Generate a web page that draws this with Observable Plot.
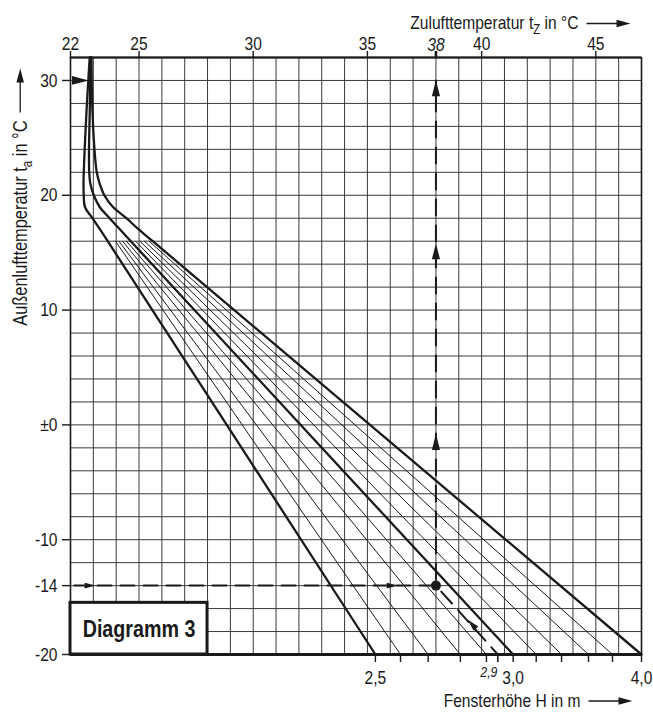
<!DOCTYPE html>
<html><head><meta charset="utf-8">
<script src="https://cdn.jsdelivr.net/npm/d3@7"></script>
<script src="https://cdn.jsdelivr.net/npm/@observablehq/plot@0.6"></script>
<style>body{margin:0;background:#fff}</style>
</head><body><div id="chart"></div>
<script>
// ---- axes (top: Zulufttemperatur t_z in °C, left: Außenlufttemperatur t_a in °C) ----
const topTicks = [22, 25, 30, 35, 40, 45];
const leftTicks = [30, 20, 10, 0, -10, -14, -20];
const gridTz = d3.range(23, 47, 1);
const gridTa = d3.range(-18, 32, 2);

// ---- heavy curves: window height H = 2,5 / 3,0 / 4,0 m ----
const heavyH = ["2,5", "3,0", "4,0"];
const curveTa = [32, 28, 24, 22, 21, 20, 19, 18, 17, 16, -20];
const curve25 = [22.84, 22.72, 22.62, 22.58, 22.57, 22.58, 22.63, 22.96, 23.30, 23.63, 35.35];
const curve30 = [22.87, 22.85, 22.81, 22.82, 22.87, 23.02, 23.27, 23.71, 24.18, 24.64, 41.38];
const curve40 = [22.92, 22.95, 23.05, 23.15, 23.28, 23.48, 23.85, 24.45, 25.00, 25.60, 47.00];

// ---- thin intermediate lines (start at t_a = 16, end at t_a = -20) ----
const thinStartTa = 16, thinEndTa = -20;
const thinStartTz = [23.97, 24.12, 24.28, 24.45, 24.85, 25.04, 25.24, 25.44];
const thinEndTz   = [36.45, 37.66, 39.07, 40.21, 42.39, 43.50, 44.68, 45.73];

// ---- worked example ----
const exampleTz = 38, exampleTa = -14;
const resultTz = 40.71, resultLabel = "2,9";
const exampleTopTa = 30;

// arrowheads along the example lines
const arrowTz    = [22.8, 23.1, 36.35, 38, 38, 38, 39.38];
const arrowTa    = [30, -14, -14, 30, 15.8, -0.8, -16.95];
const arrowAngle = [90, 90, 90, 0, 0, 0, -43];
const arrowSize  = [7, 4.6, 4.8, 6.6, 6.6, 6.6, 5.2];

// label box
const boxTz = [22, 28], boxTa = [-20, -15.5];
const boxText = "Diagramm 3";

// axis titles
const titleTop = "Zulufttemperatur t_Z in °C";
const titleBottom = "Fensterhöhe H in m";
const titleLeft = "Außenlufttemperatur t_a in °C";

// ---- build tables ----
const heavy = [];
[curve25, curve30, curve40].forEach((c, i) => c.forEach((tz, j) => heavy.push({H: heavyH[i], tz, ta: curveTa[j]})));
const thin = thinStartTz.flatMap((s, i) => [{id: i, tz: s, ta: thinStartTa}, {id: i, tz: thinEndTz[i], ta: thinEndTa}]);
const arrows = arrowTz.map((tz, i) => ({tz, ta: arrowTa[i], a: arrowAngle[i], r: arrowSize[i]}));
const heavyEnds = [curve25, curve30, curve40].map(c => c[c.length - 1]);
const bottomTicks = [...heavyEnds, ...thinEndTz];
const bottomLabel = new Map(heavyEnds.map((tz, i) => [tz, heavyH[i]]));

const arrowSymbol = {draw(ctx, size) {
  const r = Math.sqrt(size / Math.PI), L = 2.4 * r, w = 0.62 * r;
  ctx.moveTo(0, 0); ctx.lineTo(w, L); ctx.lineTo(-w, L); ctx.closePath();
}};

const ink = "#1a1a1a";
const FONT = "'Liberation Sans', Arial, sans-serif";

const chart = Plot.plot({
  width: 653, height: 718,
  marginLeft: 70, marginRight: 12, marginTop: 57, marginBottom: 64,
  x: {domain: [22, 47]},
  y: {domain: [-20, 32]},
  r: {type: "identity"},
  style: {fontFamily: FONT, fontSize: "19px", color: ink, background: "#fff"},
  marks: [
    Plot.ruleX(gridTz, {stroke: "#3a3a3a", strokeWidth: 1}),
    Plot.ruleY(gridTa, {stroke: "#3a3a3a", strokeWidth: 1}),
    Plot.frame({stroke: ink, strokeWidth: 1.6}),
    Plot.ruleY([32], {stroke: ink, strokeWidth: 2.2}),
    Plot.ruleY([-20], {stroke: ink, strokeWidth: 3.2}),

    // axes
    Plot.axisX(topTicks, {anchor: "top", tickSize: 7, tickPadding: 1, label: null, stroke: ink, strokeWidth: 1.4}),
    Plot.axisX([exampleTz], {anchor: "top", tickSize: 7, tickPadding: 0, label: null, stroke: ink, strokeWidth: 2.6, fontStyle: "italic"}),
    Plot.axisY(leftTicks, {anchor: "left", tickSize: 8, tickPadding: 5, label: null, stroke: ink, strokeWidth: 1.4, tickFormat: d => d === 0 ? "±0" : String(d)}),
    Plot.axisX(bottomTicks, {anchor: "bottom", tickSize: 8, tickPadding: 8, label: null, stroke: ink, strokeWidth: 1.4, tickFormat: d => bottomLabel.get(d) ?? ""}),
    Plot.axisX([resultTz], {anchor: "bottom", tickSize: 8, label: null, stroke: ink, strokeWidth: 1.6, tickFormat: () => ""}),
    Plot.text([resultLabel], {x: () => resultTz, frameAnchor: "bottom", text: d => d, dy: 22, dx: -9, fontSize: 15, fontStyle: "italic", fill: ink}),

    // fan of lines
    Plot.line(thin, {x: "tz", y: "ta", z: "id", stroke: ink, strokeWidth: 1}),
    Plot.line(heavy, {x: "tz", y: "ta", z: "H", stroke: ink, strokeWidth: 2.3, curve: "catmull-rom"}),

    // example
    Plot.line([[22, exampleTa], [exampleTz, exampleTa]], {stroke: ink, strokeWidth: 2, strokeDasharray: "14,9", strokeDashoffset: -4}),
    Plot.line([[exampleTz, exampleTa], [exampleTz, exampleTopTa]], {stroke: ink, strokeWidth: 2, strokeDasharray: "16,10", strokeDashoffset: -6}),
    Plot.line([[exampleTz, exampleTa], [resultTz, -20]], {stroke: ink, strokeWidth: 2, strokeDasharray: "16,9", strokeDashoffset: -8}),
    Plot.dot([[exampleTz, exampleTa]], {r: 5, fill: ink}),
    Plot.dot(arrows, {x: "tz", y: "ta", r: "r", rotate: "a", symbol: arrowSymbol, fill: ink, stroke: "none"}),

    // label box
    Plot.rect([0], {x1: () => boxTz[0], x2: () => boxTz[1], y1: () => boxTa[0], y2: () => boxTa[1], fill: "#fff", stroke: ink, strokeWidth: 3}),
    Plot.text([boxText], {x: () => (boxTz[0] + boxTz[1]) / 2, y: () => (boxTa[0] + boxTa[1]) / 2, text: d => d, fontSize: 24, fontWeight: "bold", fill: ink, dy: 1}),

    // axis titles
    Plot.text([titleTop], {frameAnchor: "top-right", text: d => d, textAnchor: "end", dx: -63, dy: -42, fontSize: 19, fill: ink}),
    Plot.text([titleBottom], {frameAnchor: "bottom-right", text: d => d, textAnchor: "end", dx: -61, dy: 52, fontSize: 19, fill: ink}),
    Plot.text([titleLeft], {frameAnchor: "top-left", text: d => d, textAnchor: "end", rotate: -90, dx: -58, dy: 63, fontSize: 20, fill: ink})
  ]
});

document.getElementById("chart").append(chart);

const svg = d3.select(chart.tagName.toLowerCase() === "svg" ? chart : chart.querySelector("svg"));
const titles = [titleTop, titleBottom, titleLeft];
const titleNodes = [];

// subscripts in the axis titles
svg.selectAll("text").each(function() {
  const s = this.textContent;
  if (!titles.includes(s)) return;
  titleNodes.push(this);
  const m = s.match(/^(.*?)_(.)(.*)$/);
  if (m) {
    const t = d3.select(this);
    t.text("");
    t.append("tspan").text(m[1]);
    t.append("tspan").attr("dy", 5).attr("font-size", 14).text(m[2]);
    t.append("tspan").attr("dy", -5).text(m[3]);
  }
});

// condensed lettering (the original uses a narrow sans)
svg.selectAll("text").each(function() {
  const L = this.getComputedTextLength();
  if (L > 0) {
    this.setAttribute("textLength", (L * 0.82).toFixed(2));
    this.setAttribute("lengthAdjust", "spacingAndGlyphs");
  }
});

// arrows after the axis titles
titleNodes.forEach(node => {
  const bb = node.getBBox();
  const tr = node.getAttribute("transform");
  const y = bb.y + 11.5;
  const x0 = bb.x + bb.width + 8, x1 = x0 + 44;
  const g = d3.select(node.parentNode);
  const p1 = g.append("path").attr("d", `M${x0},${y}H${x1 - 10}`).attr("stroke", ink).attr("stroke-width", 1.3).attr("fill", "none");
  const p2 = g.append("path").attr("d", `M${x1},${y}L${x1 - 14},${y - 3.8}L${x1 - 14},${y + 3.8}Z`).attr("fill", ink).attr("stroke", "none");
  if (tr) { p1.attr("transform", tr); p2.attr("transform", tr); }
});
</script>
</body></html>
